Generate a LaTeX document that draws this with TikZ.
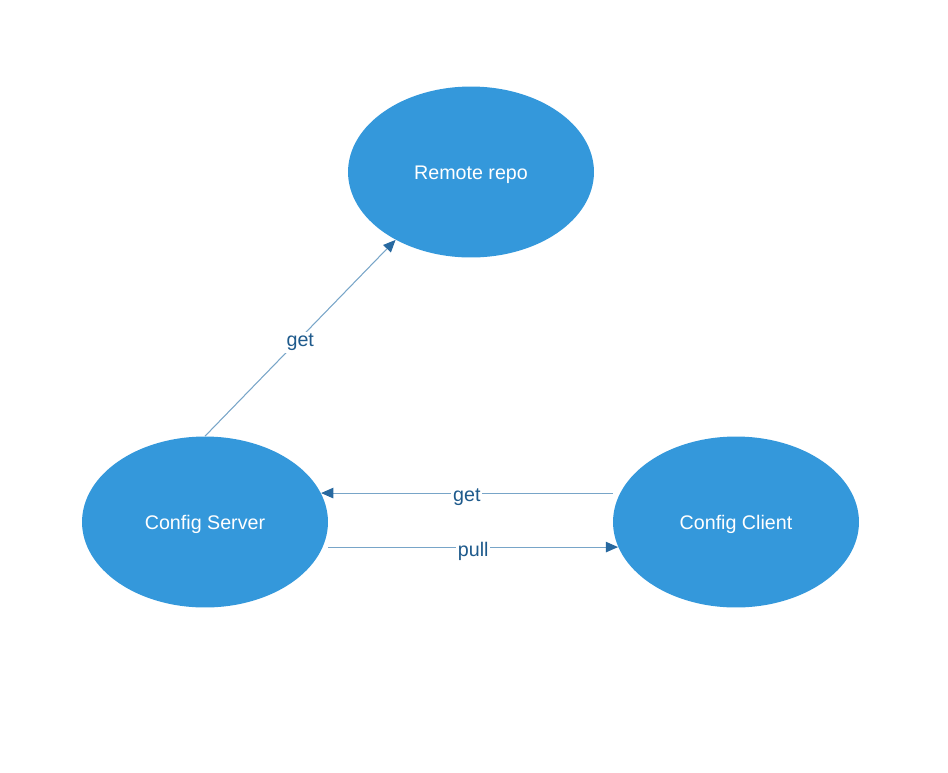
\documentclass[tikz,border=0pt]{standalone}
\usepackage{fontspec}
\setmainfont{Liberation Sans}
\usepackage{xcolor}
\usetikzlibrary{arrows.meta,shapes.geometric,positioning,calc}
\definecolor{nodeblue}{RGB}{52,152,219}
\definecolor{linkblue}{RGB}{120,165,200}
\definecolor{tipblue}{RGB}{40,105,160}
\definecolor{labelblue}{RGB}{30,90,140}

\begin{document}
\begin{tikzpicture}[
        x=0.02cm, y=-0.02cm,
        comp/.style={ellipse,fill=nodeblue,draw=none,inner sep=0pt,
                     minimum width=4.92cm,minimum height=3.42cm,
                     text height=11pt,text depth=2.5pt,
                     text=white,font=\fontsize{11.2}{13}\selectfont},
        link/.style={draw=linkblue,line width=0.6pt,
                     -{Triangle[length=7pt,width=6pt,color=tipblue]}},
        lbl/.style={fill=white,inner sep=1pt,text=labelblue,yshift=-2.5pt,
                    font=\fontsize{11.2}{13}\selectfont}
      ]
      \useasboundingbox (0,0) rectangle (948,772);
      \node[comp] (repo) at (471,172) {Remote repo};
      \node[comp] (srv)  at (205,522) {Config Server};
      \node[comp] (cli)  at (736,522) {Config Client};

      \draw[link] (srv.north) -- node[lbl]{get} (repo.222);
      \draw[link] (cli.west |- srv.14) -- node[lbl]{get} (srv.14);
      \draw[link] (srv.east |- cli.192) -- node[lbl]{pull} (cli.192);
    \end{tikzpicture}
\end{document}
